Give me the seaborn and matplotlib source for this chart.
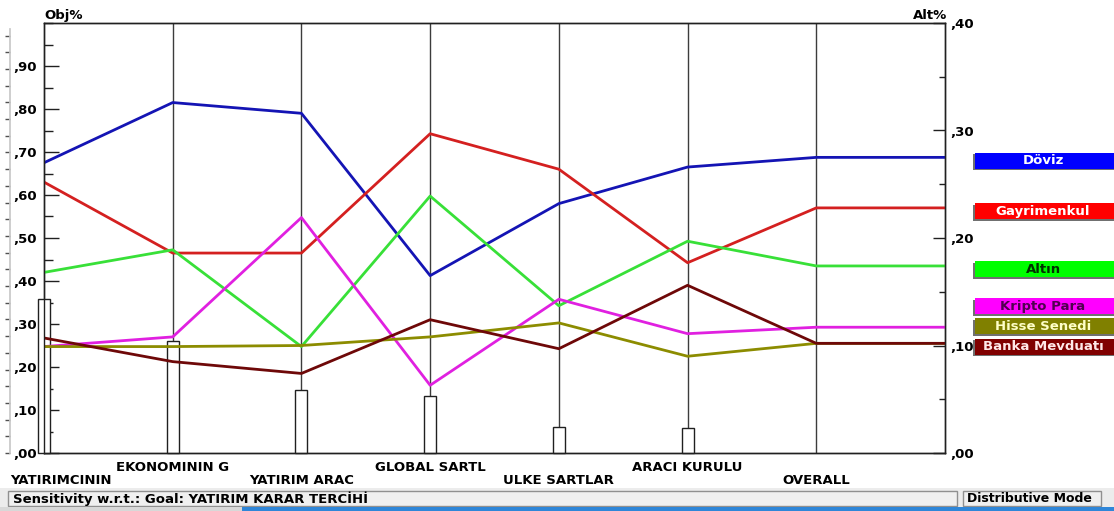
import numpy as np
import pandas as pd
import seaborn as sns
import matplotlib.pyplot as plt
from matplotlib.patches import Rectangle
from matplotlib.ticker import FuncFormatter, MultipleLocator
import matplotlib.transforms as mtransforms

# criteria (x axis) and their weights (Obj%, left axis)
criteria = ['YATIRIMCININ', 'EKONOMININ G', 'YATIRIM ARAC', 'GLOBAL SARTL',
            'ULKE SARTLAR', 'ARACI KURULU', 'OVERALL']
criteria_weights = [0.358, 0.260, 0.147, 0.133, 0.061, 0.059]

# alternative priorities under each criterion (Alt%, right axis), last value = overall
alternatives = ['Döviz', 'Gayrimenkul', 'Altın', 'Kripto Para', 'Hisse Senedi', 'Banka Mevduatı']
doviz = [0.270, 0.326, 0.316, 0.165, 0.232, 0.266, 0.275]
gayrimenkul = [0.252, 0.186, 0.186, 0.297, 0.264, 0.177, 0.228]
altin = [0.168, 0.189, 0.099, 0.239, 0.137, 0.197, 0.174]
kripto = [0.099, 0.108, 0.219, 0.063, 0.143, 0.111, 0.117]
hisse = [0.099, 0.099, 0.100, 0.108, 0.121, 0.090, 0.102]
banka = [0.107, 0.085, 0.074, 0.124, 0.097, 0.156, 0.102]

line_colors = ['#1414b4', '#d42020', '#38e038', '#e020e0', '#8c8c00', '#6e0808']
box_colors = ['#0000ff', '#ff0000', '#00ff00', '#ff00ff', '#808000', '#800000']
box_text = ['white', 'white', '#003000', '#500050', '#ffffc8', '#ffe8e8']

series = [doviz, gayrimenkul, altin, kripto, hisse, banka]
rows = []
for name, vals in zip(alternatives, series):
    # overall value runs flat to the right edge of the plot
    for pos, v in enumerate(vals + [vals[-1]]):
        rows.append((name, pos, v))
df = pd.DataFrame(rows, columns=['alt', 'pos', 'val'])

sns.set_theme(style='white')
plt.rcParams['font.family'] = ['DejaVu Sans']
plt.rcParams['font.weight'] = 'bold'
plt.rcParams['text.color'] = 'black'
plt.rcParams['ytick.color'] = 'black'
plt.rcParams['ytick.labelcolor'] = 'black'

W, H = 1114, 511
fig = plt.figure(figsize=(W / 100, H / 100), dpi=100)
fig.patch.set_facecolor('white')

def fx(px):
    return px / W

def fy(py):
    return 1 - py / H

FS = 9.5

ax = fig.add_axes([fx(44), fy(453), (945 - 44) / W, (453 - 23) / H])
ax2 = ax.twinx()

n = len(criteria)
ax.set_xlim(0, n)
ax.set_ylim(0, 1.0)
ax2.set_ylim(0, 0.4)

# criterion vertical lines and weight bars
for i in range(1, n):
    ax.axvline(i, color='#3c3c3c', lw=1.0, zorder=1)
bars = ax.bar(range(len(criteria_weights)), criteria_weights, width=0.093,
              color='white', edgecolor='#202020', linewidth=1.0, zorder=3)
for b in bars:
    b.set_clip_on(False)

sns.lineplot(data=df, x='pos', y='val', hue='alt', palette=dict(zip(alternatives, line_colors)),
             estimator=None, sort=False, legend=False, linewidth=2.0, ax=ax2)
ax2.set_xlabel('')
ax2.set_ylabel('')
ax.set_xlabel('')
ax.set_ylabel('')

for a in (ax, ax2):
    for s in a.spines.values():
        s.set_color('#202020')
        s.set_linewidth(1.0)
ax.set_xticks([])
ax2.tick_params(axis='x', bottom=False, top=False, labelbottom=False)

fmt = FuncFormatter(lambda v, _: ('%.2f' % v)[1:].replace('.', ','))
ax.set_yticks(np.arange(0, 0.95, 0.1))
ax.yaxis.set_minor_locator(MultipleLocator(0.05))
ax.yaxis.set_major_formatter(fmt)
ax.tick_params(axis='y', which='major', direction='in', length=10.8, width=1, color='#202020',
               pad=5.0, labelsize=FS, labelcolor='black', left=True)
ax.tick_params(axis='y', which='minor', direction='in', length=6.2, width=1, color='#202020', left=True)

ax2.set_yticks(np.arange(0, 0.41, 0.1))
ax2.yaxis.set_minor_locator(MultipleLocator(0.05))
ax2.yaxis.set_major_formatter(fmt)
ax2.tick_params(axis='y', which='major', direction='in', length=8.6, width=1, color='#202020',
                pad=3.5, labelsize=FS, labelcolor='black', right=True)
ax2.tick_params(axis='y', which='minor', direction='in', length=4.5, width=1, color='#202020', right=True)

ax.text(0, 1.003, 'Obj%', transform=ax.transAxes, ha='left', va='bottom', fontsize=FS, weight='bold')
ax.text(1.002, 1.003, 'Alt%', transform=ax.transAxes, ha='right', va='bottom', fontsize=FS, weight='bold')

# staggered criterion labels under the plot
xt = ax.get_xaxis_transform()
for i, lab in enumerate(criteria):
    yy = -0.0628 if i % 2 == 0 else -0.0326
    if i == 0:
        ax.text(-0.265, yy, lab, transform=xt, ha='left', va='center', fontsize=FS, weight='bold')
    else:
        ax.text(i, yy, lab, transform=xt, ha='center', va='center', fontsize=FS, weight='bold')

# legend boxes placed next to overall values, pushed apart when they collide
overall = [v[-1] for v in series]
box_h = 16 / 430 * 0.4
gap = 0.019
order = np.argsort(overall)
centers = {}
prev = -1.0
for k in order:
    c = max(overall[k] - 0.0033, prev + gap)
    centers[k] = c
    prev = c
bt = mtransforms.blended_transform_factory(ax2.transAxes, ax2.transData)
x0 = (975 - 44) / 901
dx = 1.5 / 901
dy = 1.5 / 430 * 0.4
for k in range(len(alternatives)):
    c = centers[k]
    ax2.add_patch(Rectangle((x0 - dx, c - box_h / 2 - dy), 0.2, box_h, transform=bt,
                            facecolor='#707070', edgecolor='none', clip_on=False, zorder=4))
    ax2.add_patch(Rectangle((x0, c - box_h / 2), 0.2, box_h, transform=bt,
                            facecolor=box_colors[k], edgecolor='none', clip_on=False, zorder=5))
    ax2.text((1043 - 44) / 901, c, alternatives[k], transform=bt, ha='center', va='center',
             color=box_text[k], fontsize=FS, weight='bold', zorder=6, clip_on=False)

# thin scale strip on the far left edge
ax0 = fig.add_axes([0, fy(453), fx(10), (453 - 29) / H])
ax0.set_facecolor('none')
ax0.set_xlim(0, 1)
ax0.set_ylim(0, 424 / 16.7)
ax0.set_xticks([])
ax0.set_yticks(np.arange(0, 26))
ax0.yaxis.tick_right()
ax0.tick_params(axis='y', direction='in', length=3.6, width=1, color='#505050', labelright=False)
for s in ['left', 'top', 'bottom']:
    ax0.spines[s].set_visible(False)
ax0.spines['right'].set_color('#c8c8c8')

# status bar
fig.patches.append(Rectangle((0, fy(507)), 1, (507 - 488) / H, transform=fig.transFigure,
                             facecolor='#ececec', edgecolor='none'))
fig.patches.append(Rectangle((fx(8), fy(506)), fx(957 - 8), (506 - 491) / H, transform=fig.transFigure,
                             facecolor='#f0f0f0', edgecolor='#909090', linewidth=1))
fig.patches.append(Rectangle((fx(963), fy(506)), fx(1101 - 963), (506 - 491) / H, transform=fig.transFigure,
                             facecolor='#f0f0f0', edgecolor='#909090', linewidth=1))
fig.patches.append(Rectangle((0, 0), fx(242), 4 / H, transform=fig.transFigure,
                             facecolor='#d8d8d8', edgecolor='none'))
fig.patches.append(Rectangle((fx(242), 0), 1, 4 / H, transform=fig.transFigure,
                             facecolor='#2f86d8', edgecolor='none'))
fig.text(fx(13), fy(498.5), 'Sensitivity w.r.t.: Goal: YATIRIM KARAR TERCİHİ', ha='left', va='center',
         fontsize=FS, weight='bold')
fig.text(fx(967), fy(498.5), 'Distributive Mode', ha='left', va='center', fontsize=9, weight='bold')

fig.savefig('out.png', dpi=100)
